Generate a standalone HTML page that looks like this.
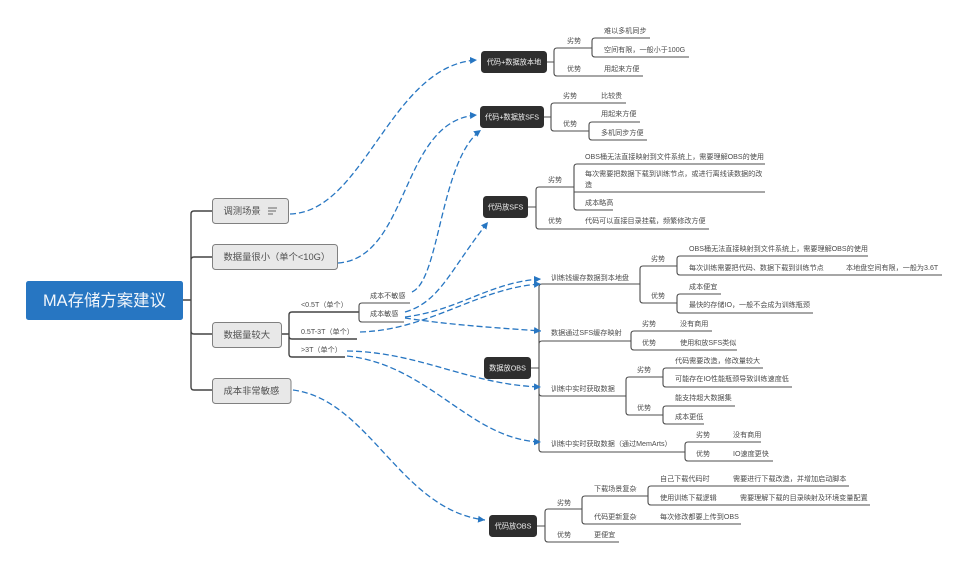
<!DOCTYPE html>
<html><head><meta charset="utf-8"><style>
html,body{margin:0;padding:0;background:#fff;width:967px;height:568px;overflow:hidden}
svg{display:block;filter:blur(.3px)}
text{font-family:"Liberation Sans","Noto Sans CJK SC",sans-serif;dominant-baseline:central}
.t{font-size:7.1px;fill:#4c4c4c}
.l{font-size:9.3px;fill:#505050}
.d{font-size:7.2px;fill:#eee;text-anchor:middle}
.w{fill:none;stroke:#4c4c4c;stroke-width:1.1}
.h{fill:none;stroke:#444;stroke-width:1.4}
.b{fill:#e8e8e8;stroke:#808080;stroke-width:1}
.k{fill:#2e2e2e}
.a{fill:none;stroke:#2776c2;stroke-width:1.3;stroke-dasharray:6 3;marker-end:url(#m)}
</style></head><body>
<svg width="967" height="568" viewBox="0 0 967 568" xmlns="http://www.w3.org/2000/svg">
<defs><marker id="m" markerUnits="userSpaceOnUse" markerWidth="8" markerHeight="7" refX="7" refY="3.500" orient="auto"><path d="M0 0L7 3.500L0 7z" fill="#2776c2"/></marker></defs>

<!-- root connectors -->
<g class="h">
<path d="M183 300H191M212 211H194Q191 211 191 214V387Q191 390 194 390H212M191 260Q191 257 194 257H212M191 331Q191 334 194 334H212"/>
<path d="M281 334H289M359 312H292Q289 312 289 315V354Q289 357 292 357H345M289 336Q289 339 292 339H357"/>
</g>
<g class="w">
<path d="M359 312V306Q359 303 362 303H410M359 312V319Q359 322 362 322H404"/>
<!-- 本地 -->
<path d="M547 62H554M592 48H557Q554 48 554 51V73Q554 76 557 76H643M592 48V41Q592 38 595 38H650M592 48V54Q592 57 595 57H689"/>
<!-- SFS -->
<path d="M544 117H551M626 103H554Q551 103 551 106V128Q551 131 554 131H589V125Q589 122 592 122H640M589 131V137Q589 140 592 140H647"/>
<!-- 代码放SFS -->
<path d="M528 207H536M574 187H539Q536 187 536 190V226Q536 229 539 229H709M574 187V167Q574 164 577 164H765M574 187V207Q574 210 577 210H613M574 192H765"/>
<!-- OBS -->
<path d="M531 368H539M640 284H542Q539 284 539 287V449Q539 452 542 452H685M539 344Q539 341 542 341H631M539 393Q539 396 542 396H626"/>
<path d="M640 284V269Q640 266 643 266H677V259Q677 256 680 256H868M677 266V272Q677 275 680 275H942M640 284V300Q640 303 643 303H677V297Q677 294 680 294H721M677 303V310Q677 313 680 313H813"/>
<path d="M631 341V334Q631 331 634 331H712M631 341V347Q631 350 634 350H737"/>
<path d="M626 396V380Q626 377 629 377H663V371Q663 368 666 368H763M663 377V384Q663 387 666 387H792M626 396V412Q626 415 629 415H663V409Q663 406 666 406H735M663 415V421Q663 424 666 424H704"/>
<path d="M685 452V445Q685 442 688 442H761M685 452V458Q685 461 688 461H773"/>
<!-- 代码放OBS -->
<path d="M537 526H545M582 509H548Q545 509 545 512V539Q545 542 548 542H619M582 509V499Q582 496 585 496H648M582 509V521Q582 524 585 524H741M648 496V489Q648 486 651 486H849M648 496V502Q648 505 651 505H870"/>
</g>

<!-- dashed connectors -->
<path class="a" d="M290 214C365 212 390 65 477 60"/>
<path class="a" d="M338 263C410 258 400 120 477 115"/>
<path class="a" d="M412 292C440 280 440 160 481 130"/>
<path class="a" d="M405 312C440 302 450 270 488 222"/>
<path class="a" d="M405 317C460 310 490 282 541 279"/>
<path class="a" d="M360 332C430 330 480 287 541 284"/>
<path class="a" d="M405 318C450 325 500 328 541 331"/>
<path class="a" d="M347 351C420 352 470 385 541 387"/>
<path class="a" d="M347 356C430 365 470 440 541 442"/>
<path class="a" d="M293 390C370 400 400 510 485 520"/>

<!-- boxes -->
<rect x="26" y="281" width="157" height="39" rx="2.500" fill="#2776c2"/>
<text x="104.500" y="301" font-size="16.400" fill="#f2f6fb" text-anchor="middle">MA存储方案建议</text>
<rect class="b" x="212.500" y="198.500" width="76" height="25" rx="3"/>
<rect class="b" x="212.500" y="244.500" width="125" height="25" rx="3"/>
<rect class="b" x="212.500" y="322.500" width="69" height="25" rx="3"/>
<rect class="b" x="212.500" y="378.500" width="78.500" height="25" rx="3"/>
<text class="l" x="223.500" y="211">调测场景</text>
<path d="M268 208H277M268 211H276M268 214H273" stroke="#666" stroke-width=".9" fill="none"/>
<text class="l" x="223.500" y="257">数据量很小（单个&lt;10G）</text>
<text class="l" x="223.500" y="335">数据量较大</text>
<text class="l" x="223.500" y="391">成本非常敏感</text>

<rect class="k" x="481" y="51" width="66" height="22" rx="3.500"/>
<rect class="k" x="480" y="106" width="64" height="22" rx="3.500"/>
<rect class="k" x="483" y="196" width="45" height="22" rx="3.500"/>
<rect class="k" x="484" y="357" width="47" height="22" rx="3.500"/>
<rect class="k" x="489" y="515" width="48" height="22" rx="3.500"/>
<text class="d" x="514" y="62">代码+数据放本地</text>
<text class="d" x="512" y="117">代码+数据放SFS</text>
<text class="d" x="505.500" y="207">代码放SFS</text>
<text class="d" x="507.500" y="368">数据放OBS</text>
<text class="d" x="513" y="526">代码放OBS</text>

<!-- labels -->
<g class="t">
<text x="301" y="305">&lt;0.5T（单个）</text>
<text x="301" y="332">0.5T-3T（单个）</text>
<text x="301" y="350">&gt;3T（单个）</text>
<text x="370" y="296">成本不敏感</text>
<text x="370" y="314">成本敏感</text>

<text x="567" y="41">劣势</text><text x="567" y="69">优势</text>
<text x="604" y="31">难以多机同步</text>
<text x="604" y="50">空间有限，一般小于100G</text>
<text x="604" y="69">用起来方便</text>

<text x="563" y="96">劣势</text><text x="563" y="124">优势</text>
<text x="601" y="96">比较贵</text>
<text x="601" y="114">用起来方便</text>
<text x="601" y="133">多机同步方便</text>

<text x="548" y="180">劣势</text><text x="548" y="221">优势</text>
<text x="585" y="157">OBS桶无法直接映射到文件系统上，需要理解OBS的使用</text>
<text x="585" y="174">每次需要把数据下载到训练节点，或进行离线读数据的改</text>
<text x="585" y="185">造</text>
<text x="585" y="203">成本略高</text>
<text x="585" y="221">代码可以直接目录挂载，频繁修改方便</text>

<text x="551" y="278">训练钱缓存数据到本地盘</text>
<text x="551" y="333">数据通过SFS缓存映射</text>
<text x="551" y="389">训练中实时获取数据</text>
<text x="551" y="444">训练中实时获取数据（通过MemArts）</text>

<text x="651" y="259">劣势</text><text x="651" y="296">优势</text>
<text x="689" y="249">OBS桶无法直接映射到文件系统上，需要理解OBS的使用</text>
<text x="689" y="268">每次训练需要把代码、数据下载到训练节点</text>
<text x="846" y="268">本地盘空间有限，一般为3.6T</text>
<text x="689" y="287">成本便宜</text>
<text x="689" y="305">最快的存储IO，一般不会成为训练瓶颈</text>

<text x="642" y="324">劣势</text><text x="642" y="343">优势</text>
<text x="680" y="324">没有商用</text>
<text x="680" y="343">使用和放SFS类似</text>

<text x="637" y="370">劣势</text><text x="637" y="408">优势</text>
<text x="675" y="361">代码需要改造，修改量较大</text>
<text x="675" y="379">可能存在IO性能瓶颈导致训练速度低</text>
<text x="675" y="398">能支持超大数据集</text>
<text x="675" y="417">成本更低</text>

<text x="696" y="435">劣势</text><text x="696" y="454">优势</text>
<text x="733" y="435">没有商用</text>
<text x="733" y="454">IO速度更快</text>

<text x="557" y="503">劣势</text><text x="557" y="535">优势</text>
<text x="594" y="489">下载场景复杂</text>
<text x="594" y="517">代码更新复杂</text>
<text x="594" y="535">更便宜</text>
<text x="660" y="479">自己下载代码时</text>
<text x="733" y="479">需要进行下载改造，并增加启动脚本</text>
<text x="660" y="498">使用训练下载逻辑</text>
<text x="740" y="498">需要理解下载的目录映射及环境变量配置</text>
<text x="660" y="517">每次修改都要上传到OBS</text>
</g>
</svg>
</body></html>
